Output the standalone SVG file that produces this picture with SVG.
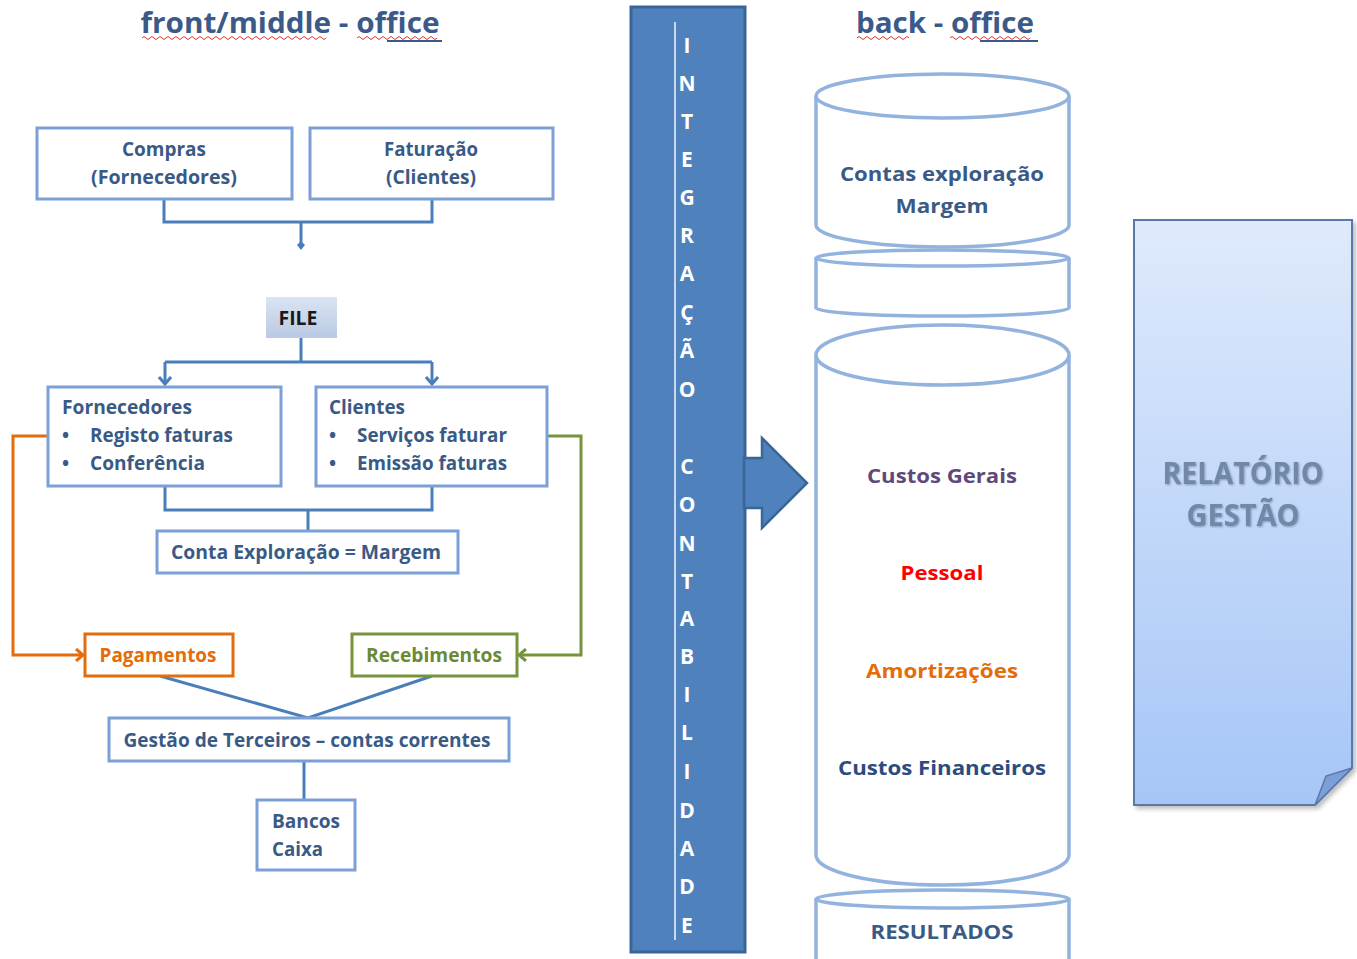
<svg xmlns="http://www.w3.org/2000/svg" width="1357" height="959" viewBox="0 0 1357 959">
  <defs>
    <linearGradient id="fileFill" x1="0" y1="0" x2="0" y2="1">
      <stop offset="0" stop-color="#dbe4f2"/>
      <stop offset="1" stop-color="#b9c9e4"/>
    </linearGradient>
    <linearGradient id="pageFill" x1="0" y1="0" x2="0" y2="1">
      <stop offset="0" stop-color="#dfeafc"/>
      <stop offset="1" stop-color="#a6c6f7"/>
    </linearGradient>
    <filter id="soft" x="-5%" y="-5%" width="115%" height="115%">
      <feDropShadow dx="3" dy="3" stdDeviation="2" flood-color="#000" flood-opacity="0.25"/>
    </filter>
    <filter id="glow" x="-5%" y="-20%" width="110%" height="140%">
      <feDropShadow dx="1" dy="1" stdDeviation="0.8" flood-color="#4a5a70" flood-opacity="0.5"/>
    </filter>
    <marker id="arrBlue" viewBox="0 0 14 14" refX="12" refY="7" markerWidth="14" markerHeight="14" markerUnits="userSpaceOnUse" orient="auto">
      <path d="M5,1 L12,7 L5,13" fill="none" stroke="#4a7ebb" stroke-width="3"/>
    </marker>
    <marker id="arrOrange" viewBox="0 0 14 14" refX="12" refY="7" markerWidth="14" markerHeight="14" markerUnits="userSpaceOnUse" orient="auto">
      <path d="M5,1 L12,7 L5,13" fill="none" stroke="#e46c0a" stroke-width="3"/>
    </marker>
    <marker id="arrGreen" viewBox="0 0 14 14" refX="12" refY="7" markerWidth="14" markerHeight="14" markerUnits="userSpaceOnUse" orient="auto">
      <path d="M5,1 L12,7 L5,13" fill="none" stroke="#77933c" stroke-width="3"/>
    </marker>
  </defs>
  <style>
    text { font-family: "Open Sans", "Noto Sans", "Liberation Sans", sans-serif; font-weight: 700; }
    .box { fill: #ffffff; stroke: #7aa0d6; stroke-width: 3; }
    .lbl { fill: #3a5a86; font-size: 19px; }
    .mid { text-anchor: middle; }
    .title { fill: #3b5a8a; font-size: 28px; text-anchor: middle; }
    .conn { fill: none; stroke: #4a7ebb; stroke-width: 3; }
    .cyl { fill: #ffffff; stroke: #93b3df; stroke-width: 3.5; }
    .vert { fill: #ffffff; font-size: 21px; text-anchor: middle; }
    .cyltxt { font-size: 20px; text-anchor: middle; }
  </style>
  <rect width="1357" height="959" fill="#ffffff"/>

  <!-- section headings -->
  <g id="heading-front">
    <text class="title" x="290" y="33" textLength="299" lengthAdjust="spacingAndGlyphs">front/middle - office</text>
    <path d="M142,38 q2,-3 4,0 t4,0 t4,0 t4,0 t4,0 t4,0 t4,0 t4,0 t4,0 t4,0 t4,0 t4,0 t4,0 t4,0 t4,0 t4,0 t4,0 t4,0 t4,0 t4,0 t4,0 t4,0 t4,0 t4,0 t4,0 t4,0 t4,0 t4,0 t4,0 t4,0 t4,0 t4,0 t4,0 t4,0 t4,0 t4,0 t4,0 t4,0 t4,0 t4,0 t4,0 t4,0 t4,0 t4,0 t4,0 t4,0" fill="none" stroke="#e03030" stroke-width="1"/>
    <path d="M357,38 q2,-3 4,0 t4,0 t4,0 t4,0 t4,0 t4,0 t4,0 t4,0 t4,0 t4,0 t4,0 t4,0 t4,0 t4,0 t4,0 t4,0 t4,0 t4,0 t4,0 t4,0" fill="none" stroke="#e03030" stroke-width="1"/>
    <line x1="387" y1="41" x2="442" y2="41" stroke="#3b5a8a" stroke-width="2"/>
  </g>
  <g id="heading-back">
    <text class="title" x="945" y="33" textLength="178" lengthAdjust="spacingAndGlyphs">back - office</text>
    <path d="M857,38 q2,-3 4,0 t4,0 t4,0 t4,0 t4,0 t4,0 t4,0 t4,0 t4,0 t4,0 t4,0 t4,0 t4,0" fill="none" stroke="#e03030" stroke-width="1"/>
    <path d="M950,38 q2,-3 4,0 t4,0 t4,0 t4,0 t4,0 t4,0 t4,0 t4,0 t4,0 t4,0 t4,0 t4,0 t4,0 t4,0 t4,0 t4,0 t4,0 t4,0 t4,0 t4,0" fill="none" stroke="#e03030" stroke-width="1"/>
    <line x1="980" y1="41" x2="1038" y2="41" stroke="#3b5a8a" stroke-width="2"/>
  </g>

  <!-- connectors -->
  <g id="connectors">
    <path class="conn" d="M164,199 V222 H432 V199"/>
    <path class="conn" d="M301,222 V246"/>
    <path d="M297,245 L301,250 L305,245 L301,241 Z" fill="#4a7ebb"/>
    <path class="conn" d="M301,338 V362"/>
    <path class="conn" d="M165,362 H432"/>
    <path class="conn" d="M165,362 V384" marker-end="url(#arrBlue)"/>
    <path class="conn" d="M432,362 V384" marker-end="url(#arrBlue)"/>
    <path class="conn" d="M165,486 V510 H432 V486"/>
    <path class="conn" d="M308,510 V531"/>
    <path d="M48,436 H13 V655 H83" fill="none" stroke="#e46c0a" stroke-width="3" marker-end="url(#arrOrange)"/>
    <path d="M547,436 H581 V655 H519" fill="none" stroke="#77933c" stroke-width="3" marker-end="url(#arrGreen)"/>
    <path class="conn" d="M160,676 L308,718 L432,676"/>
    <path class="conn" d="M304,761 V800"/>
  </g>

  <!-- front / middle office nodes -->
  <g id="node-compras">
    <rect class="box" x="37" y="128" width="255" height="71"/>
    <text class="lbl mid" x="164" y="156" textLength="84" lengthAdjust="spacingAndGlyphs">Compras</text>
    <text class="lbl mid" x="164" y="184" textLength="146" lengthAdjust="spacingAndGlyphs">(Fornecedores)</text>
  </g>
  <g id="node-faturacao">
    <rect class="box" x="310" y="128" width="243" height="71"/>
    <text class="lbl mid" x="431" y="156" textLength="94" lengthAdjust="spacingAndGlyphs">Faturação</text>
    <text class="lbl mid" x="431" y="184" textLength="90" lengthAdjust="spacingAndGlyphs">(Clientes)</text>
  </g>
  <g id="node-file">
    <rect x="266" y="297" width="71" height="41" fill="url(#fileFill)"/>
    <text class="mid" x="298" y="325" fill="#1a1a1a" font-size="19" textLength="39" lengthAdjust="spacingAndGlyphs">FILE</text>
  </g>
  <g id="node-fornecedores">
    <rect class="box" x="48" y="387" width="233" height="99"/>
    <text class="lbl" x="62" y="414" textLength="130" lengthAdjust="spacingAndGlyphs">Fornecedores</text>
    <text class="lbl" x="62" y="442" font-size="14">•</text>
    <text class="lbl" x="90" y="442" textLength="143" lengthAdjust="spacingAndGlyphs">Registo faturas</text>
    <text class="lbl" x="62" y="470" font-size="14">•</text>
    <text class="lbl" x="90" y="470" textLength="115" lengthAdjust="spacingAndGlyphs">Conferência</text>
  </g>
  <g id="node-clientes">
    <rect class="box" x="316" y="387" width="231" height="99"/>
    <text class="lbl" x="329" y="414" textLength="76" lengthAdjust="spacingAndGlyphs">Clientes</text>
    <text class="lbl" x="329" y="442" font-size="14">•</text>
    <text class="lbl" x="357" y="442" textLength="150" lengthAdjust="spacingAndGlyphs">Serviços faturar</text>
    <text class="lbl" x="329" y="470" font-size="14">•</text>
    <text class="lbl" x="357" y="470" textLength="150" lengthAdjust="spacingAndGlyphs">Emissão faturas</text>
  </g>
  <g id="node-conta">
    <rect class="box" x="157" y="531" width="301" height="42" stroke="#4a7ebb"/>
    <text class="lbl mid" x="306" y="559" textLength="270" lengthAdjust="spacingAndGlyphs">Conta Exploração = Margem</text>
  </g>
  <g id="node-pagamentos">
    <rect x="85" y="634" width="148" height="42" fill="#ffffff" stroke="#e46c0a" stroke-width="3"/>
    <text class="mid" x="158" y="662" fill="#e46c0a" font-size="19" textLength="117" lengthAdjust="spacingAndGlyphs">Pagamentos</text>
  </g>
  <g id="node-recebimentos">
    <rect x="352" y="634" width="165" height="42" fill="#ffffff" stroke="#77933c" stroke-width="3"/>
    <text class="mid" x="434" y="662" fill="#6b8a35" font-size="19" textLength="136" lengthAdjust="spacingAndGlyphs">Recebimentos</text>
  </g>
  <g id="node-gestao">
    <rect class="box" x="109" y="718" width="400" height="43" stroke="#4a7ebb"/>
    <text class="lbl mid" x="307" y="747" textLength="367" lengthAdjust="spacingAndGlyphs">Gestão de Terceiros – contas correntes</text>
  </g>
  <g id="node-bancos">
    <rect class="box" x="257" y="800" width="98" height="70" stroke="#4a7ebb"/>
    <text class="lbl" x="272" y="828" textLength="68" lengthAdjust="spacingAndGlyphs">Bancos</text>
    <text class="lbl" x="272" y="856" textLength="51" lengthAdjust="spacingAndGlyphs">Caixa</text>
  </g>

  <!-- integration bar -->
  <g id="node-integracao">
    <rect x="631" y="7" width="114" height="945" fill="#4f81bd" stroke="#3a6599" stroke-width="3"/>
    <line x1="675" y1="22" x2="675" y2="940" stroke="#c6d9f1" stroke-width="2"/>
    <text class="vert" x="687" y="53">I</text>
    <text class="vert" x="687" y="91">N</text>
    <text class="vert" x="687" y="129">T</text>
    <text class="vert" x="687" y="167">E</text>
    <text class="vert" x="687" y="205">G</text>
    <text class="vert" x="687" y="243">R</text>
    <text class="vert" x="687" y="281">A</text>
    <text class="vert" x="687" y="320">Ç</text>
    <text class="vert" x="687" y="358">Ã</text>
    <text class="vert" x="687" y="397">O</text>
    <text class="vert" x="687" y="474">C</text>
    <text class="vert" x="687" y="512">O</text>
    <text class="vert" x="687" y="551">N</text>
    <text class="vert" x="687" y="589">T</text>
    <text class="vert" x="687" y="626">A</text>
    <text class="vert" x="687" y="664">B</text>
    <text class="vert" x="687" y="702">I</text>
    <text class="vert" x="687" y="740">L</text>
    <text class="vert" x="687" y="779">I</text>
    <text class="vert" x="687" y="818">D</text>
    <text class="vert" x="687" y="856">A</text>
    <text class="vert" x="687" y="894">D</text>
    <text class="vert" x="687" y="933">E</text>
  </g>
  <g id="integration-arrow">
    <path d="M744,458 H762 V438 L807,483 L762,528 V508 H744 Z" fill="#4f81bd" stroke="#3a6599" stroke-width="2.5"/>
  </g>

  <!-- back office stack -->
  <g id="node-contas-exploracao">
    <path class="cyl" d="M816,96 V225 A126.5,22 0 0 0 1069,225 V96"/>
    <ellipse class="cyl" cx="942.5" cy="96" rx="126.5" ry="22"/>
    <text class="cyltxt" x="942" y="181" fill="#3a5a86" textLength="204" lengthAdjust="spacingAndGlyphs">Contas exploração</text>
    <text class="cyltxt" x="942" y="213" fill="#3a5a86" textLength="93" lengthAdjust="spacingAndGlyphs">Margem</text>
  </g>
  <g id="node-blank">
    <path class="cyl" d="M816,258 V308 A126.5,8 0 0 0 1069,308 V258"/>
    <ellipse class="cyl" cx="942.5" cy="258" rx="126.5" ry="8"/>
  </g>
  <g id="node-custos">
    <path class="cyl" d="M816,355 V855 A126.5,30 0 0 0 1069,855 V355"/>
    <ellipse class="cyl" cx="942.5" cy="355" rx="126.5" ry="30"/>
    <text class="cyltxt" x="942" y="483" fill="#60497a" textLength="150" lengthAdjust="spacingAndGlyphs">Custos Gerais</text>
    <text class="cyltxt" x="942" y="580" fill="#ff0000" textLength="83" lengthAdjust="spacingAndGlyphs">Pessoal</text>
    <text class="cyltxt" x="942" y="678" fill="#e46c0a" textLength="152" lengthAdjust="spacingAndGlyphs">Amortizações</text>
    <text class="cyltxt" x="942" y="775" fill="#2b4c7e" textLength="208" lengthAdjust="spacingAndGlyphs">Custos Financeiros</text>
  </g>
  <g id="node-resultados">
    <path class="cyl" d="M816,899 V962 H1069 V899"/>
    <ellipse class="cyl" cx="942.5" cy="899" rx="126.5" ry="9"/>
    <text class="cyltxt" x="942" y="939" fill="#3a5a86" textLength="143" lengthAdjust="spacingAndGlyphs">RESULTADOS</text>
  </g>

  <!-- management report page -->
  <g id="node-relatorio">
    <path d="M1134,220 H1352 V768 L1315,805 H1134 Z" fill="url(#pageFill)" stroke="#5a78aa" stroke-width="2" filter="url(#soft)"/>
    <path d="M1315,805 L1326,776 L1352,768 Z" fill="#7b9fd6" stroke="#5a78aa" stroke-width="1.5"/>
    <g filter="url(#glow)">
      <text x="1243" y="484" text-anchor="middle" font-size="30" fill="#7188a8" textLength="161" lengthAdjust="spacingAndGlyphs">RELATÓRIO</text>
      <text x="1243" y="526" text-anchor="middle" font-size="30" fill="#7188a8" textLength="113" lengthAdjust="spacingAndGlyphs">GESTÃO</text>
    </g>
  </g>
</svg>
